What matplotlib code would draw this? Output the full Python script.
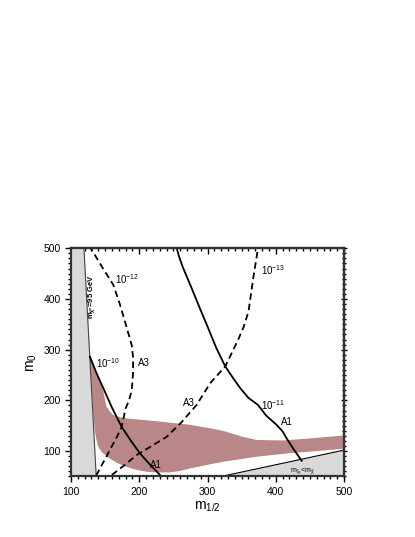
import numpy as np
import matplotlib
matplotlib.use('Agg')
import matplotlib.pyplot as plt
from matplotlib.ticker import MultipleLocator

plt.rcParams['font.family'] = ['Liberation Sans', 'DejaVu Sans']
plt.rcParams['mathtext.fontset'] = 'custom'
plt.rcParams['mathtext.rm'] = 'Liberation Sans'
plt.rcParams['mathtext.it'] = 'Liberation Sans'
plt.rcParams['mathtext.bf'] = 'Liberation Sans:bold'
plt.rcParams['mathtext.default'] = 'regular'

# chargino bound (left gray region edge)
chargino_x = [119, 137]
chargino_y = [500, 50]

# stau LSP bound (lower right gray region edge)
stau_x = [320, 500]
stau_y = [50, 102]

# pink allowed band
band_top_x = [127.5, 135, 142, 147, 152, 157, 162, 177, 225, 274, 300, 323, 352, 372, 411, 450, 500]
band_top_y = [292, 265, 240, 220, 188, 178, 171, 165, 159, 152, 146, 140, 128, 122, 121, 125, 131]
band_bot_x = [500, 460, 421, 372, 323, 300, 275, 260, 245, 230, 212, 196, 181, 167, 155, 146, 142, 139, 137, 135, 133, 131, 129]
band_bot_y = [105, 100, 96, 89, 79, 73, 66, 61, 58, 58, 59, 63, 69, 77, 87, 97, 104, 112, 125, 140, 170, 210, 250]

# A1 contours (solid)
a1_left_x = [127.8, 137, 147.4, 160, 174.2, 188, 201.1, 216, 230.4, 233]
a1_left_y = [286, 255, 224, 186, 148, 120, 95.6, 73, 53, 50]
a1_right_x = [255, 258, 264, 270, 279, 289, 299, 313, 326, 337, 348, 360, 374, 386, 401, 410, 416, 427, 438]
a1_right_y = [500, 485, 462, 443, 414, 381, 349, 303, 267, 245, 224, 205, 191, 170, 152, 139, 125, 102, 81]

# A3 contours (dashed)
a3_left_x = [137, 145, 153, 160, 167, 174, 177, 180, 185, 189, 191, 191, 189, 182, 172, 162, 147, 138, 129]
a3_left_y = [52, 72, 92, 110, 127, 147, 165, 184, 200, 220, 255, 285, 309, 342, 388, 428, 460, 480, 500]
a3_right_x = [160, 178, 196, 218, 240, 262, 284, 304, 326, 345, 353, 360, 367, 374]
a3_right_y = [53, 72, 92, 110, 128, 157, 191, 234, 267, 320, 345, 375, 441, 500]

fig = plt.figure(figsize=(4.15, 5.37), dpi=100)
ax = fig.add_axes([0.171, 0.1127, 0.658, 0.425])

# gray excluded regions
ax.fill_betweenx(chargino_y, [100, 100], chargino_x, color='#d9d9d9', lw=0)
ax.plot(chargino_x, chargino_y, color='#444444', lw=0.8)
ax.fill_between(stau_x, [50, 50], stau_y, color='#d9d9d9', lw=0)
ax.plot(stau_x, stau_y, color='black', lw=0.8)

# allowed band
ax.fill(band_top_x + band_bot_x, band_top_y + band_bot_y, color='#b98787', lw=0)

# contours
dash = (0, (3.6, 2.2))
ax.plot(a1_left_x, a1_left_y, color='black', lw=1.3)
ax.plot(a1_right_x, a1_right_y, color='black', lw=1.3)
ax.plot(a3_left_x, a3_left_y, color='black', lw=1.3, linestyle=dash)
ax.plot(a3_right_x, a3_right_y, color='black', lw=1.3, linestyle=dash)

fs = 7
ax.text(182, 440, '10$^{-12}$', fontsize=fs, ha='center', va='center')
ax.text(154, 274, '10$^{-10}$', fontsize=fs, ha='center', va='center')
ax.text(207, 274, 'A3', fontsize=fs, ha='center', va='center')
ax.text(273, 194, 'A3', fontsize=fs, ha='center', va='center')
ax.text(224, 73, 'A1', fontsize=fs, ha='center', va='center')
ax.text(396, 457, '10$^{-13}$', fontsize=fs, ha='center', va='center')
ax.text(396, 191, '10$^{-11}$', fontsize=fs, ha='center', va='center')
ax.text(417, 158, 'A1', fontsize=fs, ha='center', va='center')
ax.text(130, 405, 'm$_{\\tilde{\\chi}^{\\pm}}$=95 GeV', fontsize=5.5, rotation=90,
        ha='center', va='center', fontweight='bold')
ax.text(440, 62, 'm$_{\\tilde{\\tau}_R}$<m$_{\\tilde{\\chi}}$', fontsize=5,
        ha='center', va='center')

ax.set_xlim(100, 500)
ax.set_ylim(50, 500)
ax.xaxis.set_major_locator(MultipleLocator(100))
ax.xaxis.set_minor_locator(MultipleLocator(10))
ax.yaxis.set_major_locator(MultipleLocator(100))
ax.yaxis.set_minor_locator(MultipleLocator(10))
ax.tick_params(which='both', direction='out', width=1.0, labelsize=7.5)
ax.tick_params(which='major', length=4)
ax.tick_params(which='minor', length=2)
# inward ticks on the top and right edges
sec_x = ax.secondary_xaxis('top')
sec_x.xaxis.set_major_locator(MultipleLocator(100))
sec_x.xaxis.set_minor_locator(MultipleLocator(10))
sec_x.tick_params(which='both', direction='in', labeltop=False, width=1.0)
sec_x.tick_params(which='major', length=4)
sec_x.tick_params(which='minor', length=2)
sec_y = ax.secondary_yaxis('right')
sec_y.yaxis.set_major_locator(MultipleLocator(100))
sec_y.yaxis.set_minor_locator(MultipleLocator(10))
sec_y.tick_params(which='both', direction='inout', labelright=False, width=1.0)
sec_y.tick_params(which='major', length=5)
sec_y.tick_params(which='minor', length=2.5)
for s in list(ax.spines.values()) + [sec_x.spines['top'], sec_y.spines['right']]:
    s.set_linewidth(1.6)
    s.set_color('#333333')

ax.set_xlabel('m$_{1/2}$', fontsize=10, labelpad=2)
ax.set_ylabel('m$_0$', fontsize=10, labelpad=3)

fig.savefig('out.png', dpi=100)
